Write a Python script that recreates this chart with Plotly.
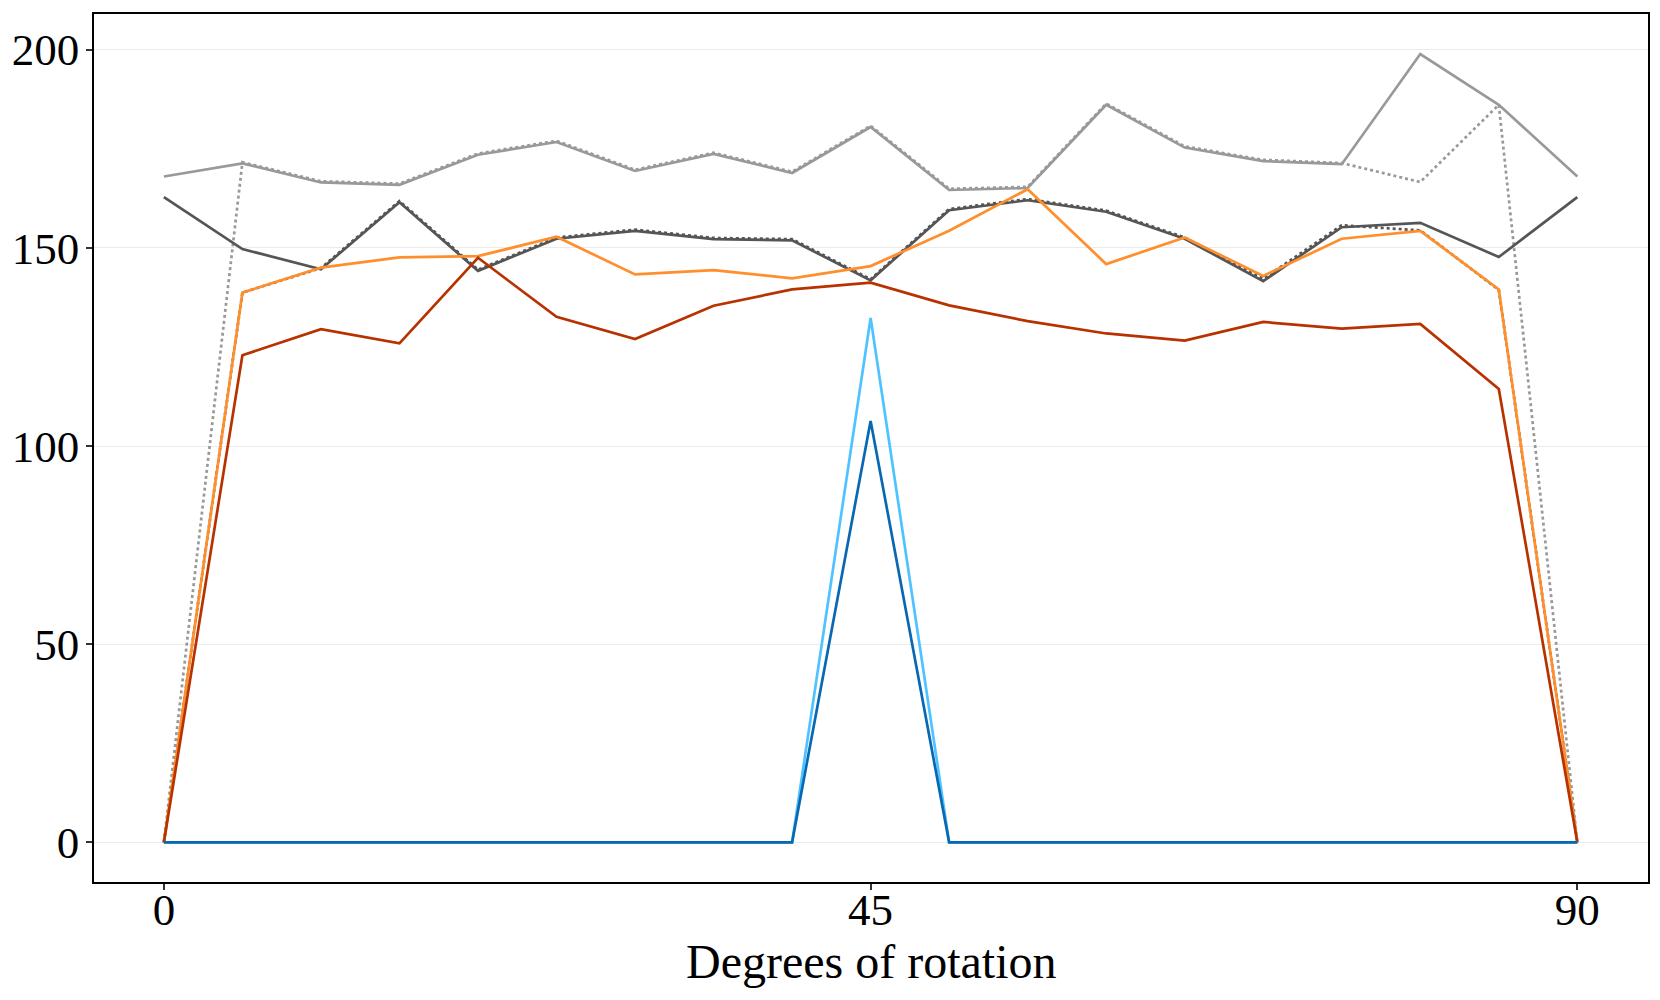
import plotly.graph_objects as go

degrees = [0, 5, 10, 15, 20, 25, 30, 35, 40, 45, 50, 55, 60, 65, 70, 75, 80, 85, 90]

light_gray_solid = [168.0, 171.3, 166.5, 165.9, 173.5, 176.7, 169.4, 173.7, 168.9, 180.5, 164.6, 165.1, 186.1, 175.3, 171.9, 171.1, 198.9, 186.1, 168.0]
light_gray_dotted = [0.0, 171.6, 166.8, 166.2, 173.8, 177.0, 169.7, 174.0, 169.2, 180.8, 164.9, 165.4, 186.4, 175.6, 172.2, 171.4, 166.6, 186.1, 0.0]
dark_gray_solid = [162.8, 149.7, 144.6, 161.5, 144.2, 152.3, 154.3, 152.2, 151.9, 141.8, 159.5, 162.0, 159.1, 152.3, 141.6, 155.2, 156.3, 147.7, 162.8]
dark_gray_dotted = [0.0, 138.7, 144.9, 161.8, 144.5, 152.6, 154.6, 152.5, 152.2, 142.1, 159.8, 162.3, 159.4, 152.6, 142.2, 155.7, 154.4, 139.4, 0.0]
orange = [0.0, 138.7, 145.0, 147.6, 147.9, 152.8, 143.3, 144.4, 142.3, 145.4, 154.3, 164.8, 145.9, 152.6, 142.9, 152.3, 154.3, 139.5, 0.0]
dark_red = [0.0, 122.9, 129.5, 125.9, 147.5, 132.6, 127.0, 135.4, 139.5, 141.2, 135.5, 131.5, 128.4, 126.6, 131.3, 129.6, 130.8, 114.4, 0.0]
light_blue = [0, 0, 0, 0, 0, 0, 0, 0, 0, 132.3, 0, 0, 0, 0, 0, 0, 0, 0, 0]
dark_blue = [0, 0, 0, 0, 0, 0, 0, 0, 0, 106.3, 0, 0, 0, 0, 0, 0, 0, 0, 0]

x_ticks = [0, 45, 90]
y_ticks = [0, 50, 100, 150, 200]
x_title = "Degrees of rotation"

series = [
    (light_gray_solid, "#999999", "solid"),
    (light_gray_dotted, "#999999", "dot"),
    (dark_gray_dotted, "#555555", "dot"),
    (dark_gray_solid, "#555555", "solid"),
    (orange, "#ff8f2c", "solid"),
    (dark_red, "#b83200", "solid"),
    (light_blue, "#4fc3ff", "solid"),
    (dark_blue, "#0868b2", "solid"),
]

fig = go.Figure()
for ys, color, dash in series:
    fig.add_trace(go.Scatter(
        x=degrees, y=ys, mode="lines",
        line=dict(color=color, width=2.7, dash=dash),
        showlegend=False, hoverinfo="skip",
    ))

font_family = "Liberation Serif, DejaVu Serif, serif"
tick_size = 45

fig.update_layout(
    width=1660, height=1000,
    margin=dict(l=82, r=20, t=4, b=126),
    paper_bgcolor="white", plot_bgcolor="white",
    font=dict(family=font_family, size=tick_size, color="black"),
    showlegend=False,
    annotations=[dict(
        text=x_title, xref="paper", yref="paper", x=0.5, y=-0.092,
        xanchor="center", yanchor="middle", showarrow=False,
        font=dict(family=font_family, size=48, color="black"),
    )],
)
fig.update_xaxes(
    range=[-4.45, 94.5], tickvals=x_ticks, ticktext=[str(v) for v in x_ticks],
    showgrid=False, zeroline=False,
    showline=True, linecolor="black", linewidth=1.5, mirror=True,
    ticks="outside", ticklen=6, tickwidth=1.5, tickcolor="#333333",
    tickfont=dict(family=font_family, size=tick_size),
    ticklabelstandoff=-19,
)
fig.update_yaxes(
    range=[-10, 209], tickvals=y_ticks, ticktext=[str(v) for v in y_ticks],
    showgrid=True, gridcolor="#ebebeb", gridwidth=1.2, zeroline=False,
    showline=True, linecolor="black", linewidth=1.5, mirror=True,
    ticks="outside", ticklen=6, tickwidth=1.5, tickcolor="#333333",
    tickfont=dict(family=font_family, size=tick_size),
    ticklabelstandoff=-2,
)

fig.write_html("out.html")
